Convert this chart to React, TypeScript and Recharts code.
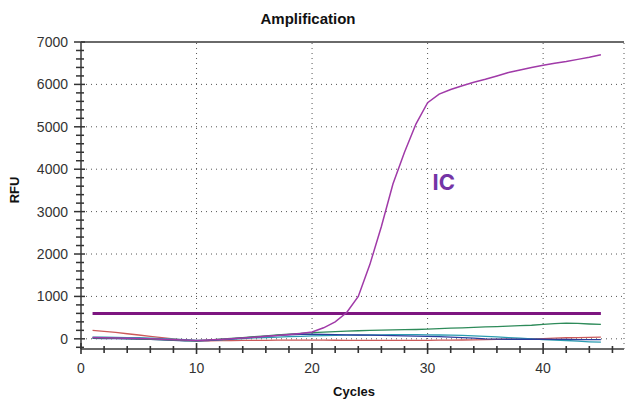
import React from "react";
import {
  LineChart,
  Line,
  XAxis,
  YAxis,
  ReferenceLine,
  ReferenceDot,
} from "recharts";

const cycles = [
  1, 2, 3, 4, 5, 6, 7, 8, 9, 10, 11, 12, 13, 14, 15, 16, 17, 18, 19, 20, 21, 22,
  23, 24, 25, 26, 27, 28, 29, 30, 31, 32, 33, 34, 35, 36, 37, 38, 39, 40, 41,
  42, 43, 44, 45,
];

const icValues = [
  30, 25, 20, 15, 10, 0, -10, -20, -30, -40, -30, -15, 0, 20, 40, 60, 80, 100,
  125, 160, 260, 400, 620, 1000, 1750, 2650, 3650, 4400, 5070, 5570, 5770, 5880,
  5970, 6050, 6120, 6200, 6280, 6340, 6400, 6450, 6500, 6540, 6590, 6640, 6700,
];

const redValues = [
  200, 175, 150, 120, 90, 60, 30, 0, -30, -45, -45, -40, -40, -38, -35, -35,
  -32, -30, -30, -30, -32, -34, -35, -35, -35, -35, -35, -35, -35, -35, -32,
  -30, -28, -25, -20, -15, -10, -5, 0, 5, 15, 25, 30, 35, 40,
];

const greenValues = [
  20, 15, 10, 5, 0, -10, -20, -30, -40, -45, -30, -10, 10, 30, 50, 70, 90, 110,
  130, 145, 160, 170, 180, 190, 200, 205, 210, 215, 220, 230, 240, 250, 260,
  270, 280, 290, 300, 310, 320, 340, 360, 370, 365, 350, 340,
];

const cyanValues = [
  40, 38, 35, 30, 25, 15, 5, -5, -20, -40, -35, -25, -10, 5, 20, 30, 40, 50, 60,
  70, 75, 80, 85, 88, 90, 95, 98, 100, 98, 95, 90, 85, 80, 70, 60, 45, 30, 15,
  0, -20, -30, -40, -55, -70, -80,
];

const blueValues = [
  10, 8, 5, 0, -5, -15, -25, -35, -45, -50, -40, -20, 0, 20, 40, 60, 80, 95,
  105, 110, 105, 100, 95, 90, 85, 80, 75, 70, 65, 60, 50, 40, 30, 15, 0, -5, -10,
  -10, -10, -10, -12, -15, -18, -20, -20,
];

const thresholdValue = 600;
const xMajorTicks = [0, 10, 20, 30, 40];
const yMajorTicks = [0, 1000, 2000, 3000, 4000, 5000, 6000, 7000];
const xAllTicks = [
  0, 2, 4, 6, 8, 10, 12, 14, 16, 18, 20, 22, 24, 26, 28, 30, 32, 34, 36, 38, 40,
  42, 44, 46,
];
const yAllTicks = [
  -200, 0, 200, 400, 600, 800, 1000, 1200, 1400, 1600, 1800, 2000, 2200, 2400,
  2600, 2800, 3000, 3200, 3400, 3600, 3800, 4000, 4200, 4400, 4600, 4800, 5000,
  5200, 5400, 5600, 5800, 6000, 6200, 6400, 6600, 6800, 7000,
];

const data = cycles.map((c, i) => ({
  cycle: c,
  ic: icValues[i],
  red: redValues[i],
  green: greenValues[i],
  cyan: cyanValues[i],
  blue: blueValues[i],
}));

const FONT = "'Liberation Sans', Arial, sans-serif";
const AXIS = "#6a6a6a";

const YTick = (props: any) => {
  const { x, y, payload } = props;
  const major = payload.value % 1000 === 0;
  return (
    <g>
      <line
        x1={x - (major ? 7 : 5)}
        x2={x + (major ? 4 : 3)}
        y1={y}
        y2={y}
        stroke="#333"
        strokeWidth={1.5}
      />
      {major && (
        <text
          x={x - 13}
          y={y}
          textAnchor="end"
          dominantBaseline="central"
          fontFamily={FONT}
          fontSize={14}
          fill="#333"
        >
          {payload.value}
        </text>
      )}
    </g>
  );
};

const XTick = (props: any) => {
  const { x, y, payload } = props;
  const major = payload.value % 10 === 0;
  return (
    <g>
      <line
        x1={x}
        x2={x}
        y1={y - (major ? 6 : 3)}
        y2={y + (major ? 5 : 4)}
        stroke="#333"
        strokeWidth={1.6}
      />
      {major && (
        <text
          x={x}
          y={y + 24}
          textAnchor="middle"
          fontFamily={FONT}
          fontSize={14}
          fill="#333"
        >
          {payload.value}
        </text>
      )}
    </g>
  );
};

const ICLabel = (props: any) => {
  const { viewBox } = props;
  const cx = viewBox.x + (viewBox.width || 0) / 2;
  const cy = viewBox.y + (viewBox.height || 0) / 2;
  return (
    <text
      x={cx}
      y={cy}
      textAnchor="middle"
      dominantBaseline="central"
      fontFamily="Inter, 'Open Sans', sans-serif"
      fontWeight={700}
      fontSize={22}
      fill="#7434a6"
    >
      IC
    </text>
  );
};

export default function App() {
  return (
    <div style={{ position: "absolute", left: 0, top: 0, width: 625, height: 401, background: "#fff" }}>
      <LineChart
        width={625}
        height={401}
        data={data}
        margin={{ top: 42, right: 1, bottom: 0, left: 0 }}
      >
        <XAxis
          dataKey="cycle"
          type="number"
          domain={[0, 47]}
          ticks={xAllTicks}
          interval={0}
          height={52}
          tickSize={0}
          tickMargin={0}
          tickLine={false}
          axisLine={{ stroke: AXIS, strokeWidth: 2 }}
          tick={<XTick />}
          allowDataOverflow
        />
        <YAxis
          type="number"
          domain={[-240, 7000]}
          ticks={yAllTicks}
          interval={0}
          width={81}
          tickSize={0}
          tickMargin={0}
          tickLine={false}
          axisLine={{ stroke: AXIS, strokeWidth: 2 }}
          tick={<YTick />}
          allowDataOverflow
        />
        {xMajorTicks
          .filter((v) => v > 0)
          .map((v) => (
            <ReferenceLine
              key={"gx" + v}
              x={v}
              stroke="#555"
              strokeWidth={1}
              strokeDasharray="1 4"
            />
          ))}
        <ReferenceLine x={47} stroke="#555" strokeWidth={1} strokeDasharray="1 4" />
        {yMajorTicks
          .filter((v) => v > 0 && v < 7000)
          .map((v) => (
            <ReferenceLine
              key={"gy" + v}
              y={v}
              stroke="#555"
              strokeWidth={1}
              strokeDasharray="1 4"
            />
          ))}
        <ReferenceLine y={0} stroke="#555" strokeWidth={1} strokeDasharray="1 4" />
        <ReferenceLine y={7000} stroke={AXIS} strokeWidth={2} />
        <ReferenceLine
          segment={[
            { x: 1, y: thresholdValue },
            { x: 45, y: thresholdValue },
          ]}
          stroke="#7d1680"
          strokeWidth={3}
        />
        <Line dataKey="red" stroke="#cc5a5a" strokeWidth={1.3} dot={false} isAnimationActive={false} />
        <Line dataKey="cyan" stroke="#2b9cb0" strokeWidth={1.3} dot={false} isAnimationActive={false} />
        <Line dataKey="blue" stroke="#2c3d9c" strokeWidth={1.3} dot={false} isAnimationActive={false} />
        <Line dataKey="green" stroke="#2e8b5a" strokeWidth={1.3} dot={false} isAnimationActive={false} />
        <Line dataKey="ic" stroke="#a03aa8" strokeWidth={1.5} dot={false} isAnimationActive={false} />
        <ReferenceDot x={31.4} y={3690} r={0} fill="none" stroke="none" label={<ICLabel />} />
        <text
          x={308}
          y={24}
          textAnchor="middle"
          fontFamily={FONT}
          fontWeight={700}
          fontSize={15}
          fill="#111"
        >
          Amplification
        </text>
        <text
          x={354}
          y={396}
          textAnchor="middle"
          fontFamily={FONT}
          fontWeight={700}
          fontSize={13}
          fill="#111"
        >
          Cycles
        </text>
        <text
          x={19}
          y={190}
          textAnchor="middle"
          transform="rotate(-90 19 190)"
          fontFamily={FONT}
          fontWeight={700}
          fontSize={13}
          fill="#111"
        >
          RFU
        </text>
      </LineChart>
    </div>
  );
}
